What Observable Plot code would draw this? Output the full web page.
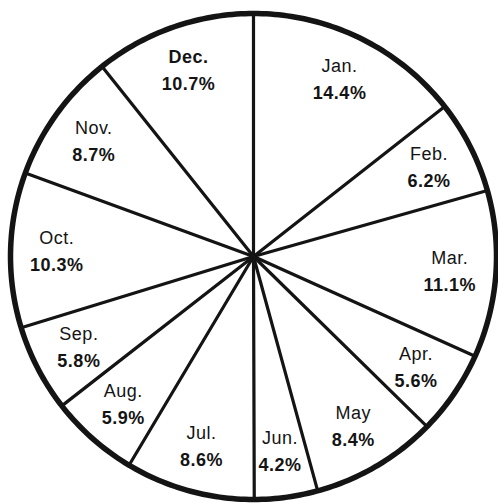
<!DOCTYPE html>
<html>
<head>
<meta charset="utf-8">
<script src="https://cdn.jsdelivr.net/npm/d3@7"></script>
<script src="https://cdn.jsdelivr.net/npm/@observablehq/plot@0.6"></script>
<style>
  html, body { margin: 0; padding: 0; background: #fff; }
  #chart svg { display: block; }
</style>
</head>
<body>
<div id="chart"></div>
<script>
const months = ["Jan.", "Feb.", "Mar.", "Apr.", "May", "Jun.", "Jul.", "Aug.", "Sep.", "Oct.", "Nov.", "Dec."];
const shares = [14.4, 6.2, 11.1, 5.6, 8.4, 4.2, 8.6, 5.9, 5.8, 10.3, 8.7, 10.7];

const W = 498, H = 503;
const cx = 253, cy = 256, R = 243;   // pixel centre and radius of the pie
const total = d3.sum(shares);

// slice boundaries (clockwise from 12 o'clock)
let acc = 0;
const slices = months.map((m, i) => {
  const a0 = acc / total * 2 * Math.PI;
  acc += shares[i];
  const a1 = acc / total * 2 * Math.PI;
  return {month: m, share: shares[i], a0, a1, mid: (a0 + a1) / 2};
});

const spokes = slices.map(s => ({x1: 0, y1: 0, x2: Math.sin(s.a0), y2: Math.cos(s.a0)}));
const rim = d3.range(0, 361).map(deg => ({x: Math.sin(deg * Math.PI / 180), y: Math.cos(deg * Math.PI / 180)}));
const labelR = 0.81;
const labels = slices.map(s => ({
  month: s.month,
  pct: s.share.toFixed(1) + "%",
  x: labelR * Math.sin(s.mid),
  y: labelR * Math.cos(s.mid)
}));

const font = "'Liberation Sans', Arial, sans-serif";

const chart = Plot.plot({
  width: W,
  height: H,
  margin: 0,
  x: {domain: [-cx / R, (W - cx) / R], axis: null},
  y: {domain: [-(H - cy) / R, cy / R], axis: null},
  style: {background: "#fff", fontFamily: font},
  marks: [
    Plot.link(spokes, {x1: "x1", y1: "y1", x2: "x2", y2: "y2", stroke: "#141414", strokeWidth: 3.2, strokeLinecap: "round"}),
    Plot.line(rim, {x: "x", y: "y", curve: "linear-closed", stroke: "#141414", strokeWidth: 5.5}),
    Plot.text(labels.filter(d => d.month !== "Dec."), {x: "x", y: "y", text: "month", dy: -13, fontSize: 18, fill: "#141414", fontWeight: "normal"}),
    Plot.text(labels.filter(d => d.month === "Dec."), {x: "x", y: "y", text: "month", dy: -13, fontSize: 18, fill: "#141414", fontWeight: "bold"}),
    Plot.text(labels, {x: "x", y: "y", text: "pct", dy: 14, fontSize: 18, fill: "#141414", fontWeight: "bold"})
  ]
});
chart.querySelectorAll("text").forEach(t => t.style.letterSpacing = "0.5px");
document.getElementById("chart").appendChild(chart);
</script>
</body>
</html>
